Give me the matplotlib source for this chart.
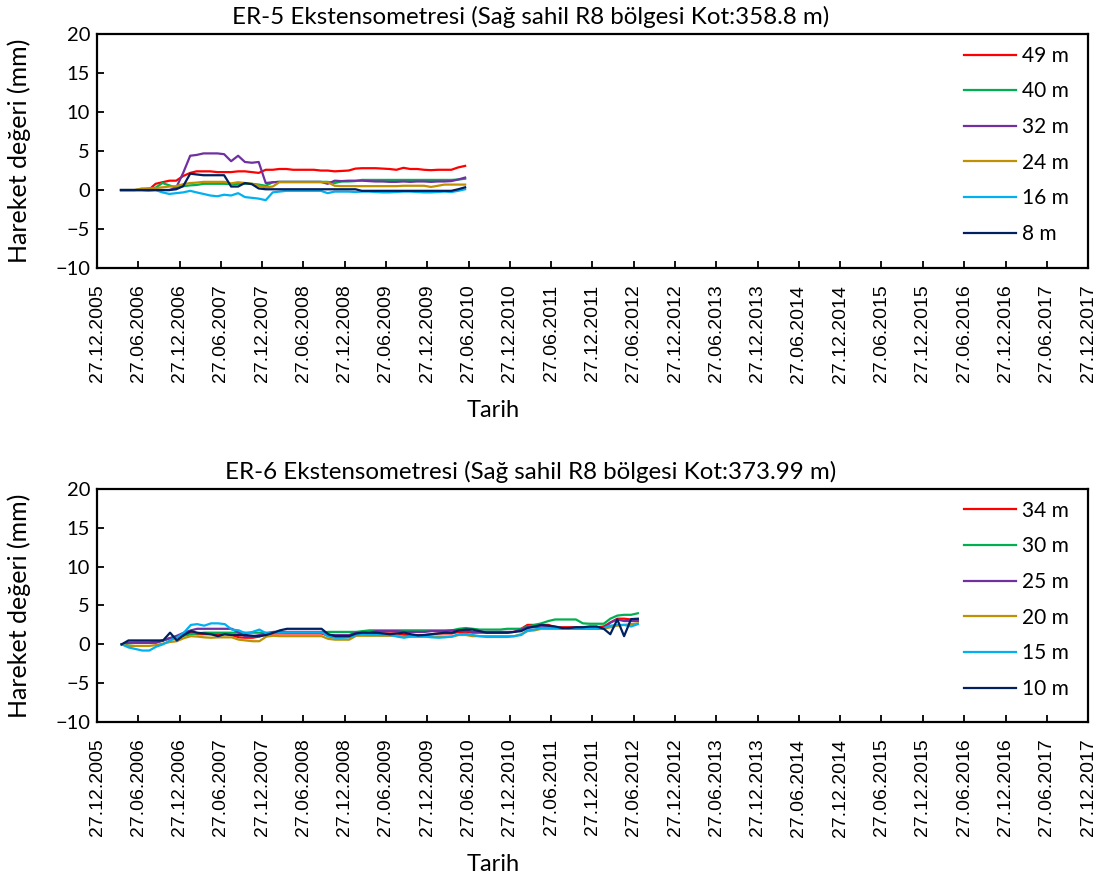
import matplotlib
matplotlib.use("Agg")
import matplotlib.pyplot as plt
import matplotlib.dates as mdates
import pandas as pd

# ER-5: aylik okumalar (Nisan 2006 - Haziran 2010)
er5_dates = pd.date_range("2006-04-12", periods=51, freq=pd.DateOffset(months=1))
er5_49 = [0, 0, 0, 0, 0, 0.8, 1.0, 1.2, 1.2, 1.8, 2.2, 2.4, 2.4, 2.4, 2.3, 2.3, 2.3,
          2.4, 2.4, 2.3, 2.2, 2.6, 2.6, 2.7, 2.7, 2.6, 2.6, 2.6, 2.6, 2.5, 2.5, 2.4,
          2.45, 2.5, 2.75, 2.8, 2.8, 2.8, 2.75, 2.7, 2.6, 2.85, 2.7, 2.7, 2.6, 2.55,
          2.6, 2.6, 2.6, 2.9, 3.1]
er5_40 = [0, 0, 0, 0.1, 0.2, 0.3, 0.9, 0.6, 0.3, 0.5, 0.6, 0.65, 0.8, 0.8, 0.8, 0.8,
          0.75, 0.8, 0.8, 0.8, 0.7, 0.55, 1.0, 1.05, 1.05, 1.05, 1.05, 1.05, 1.05,
          1.05, 1.05, 0.9, 1.1, 1.1, 1.15, 1.3, 1.3, 1.3, 1.3, 1.3, 1.3, 1.3, 1.3,
          1.3, 1.3, 1.3, 1.3, 1.3, 1.3, 1.35, 1.45]
er5_32 = [0, 0, 0, 0, 0, 0, 0, 0, 0.3, 2.2, 4.4, 4.5, 4.7, 4.7, 4.7, 4.6, 3.7, 4.4,
          3.6, 3.5, 3.6, 0.9, 1.0, 1.05, 1.05, 1.05, 1.05, 1.05, 1.05, 1.05, 0.8,
          1.2, 1.15, 1.2, 1.2, 1.2, 1.15, 1.1, 1.1, 1.05, 1.05, 1.1, 1.05, 1.1, 1.1,
          1.05, 1.1, 1.1, 1.15, 1.35, 1.6]
er5_24 = [0, 0, 0, 0.2, 0.2, 0.25, 0.35, 0.45, 0.5, 0.75, 0.9, 0.95, 1.05, 1.05,
          1.05, 1.05, 0.85, 1.0, 0.9, 0.8, 0.55, 0.35, 0.45, 1.0, 1.0, 1.0, 1.0,
          1.0, 1.0, 1.0, 1.0, 0.55, 0.5, 0.5, 0.5, 0.5, 0.5, 0.5, 0.5, 0.5, 0.5,
          0.55, 0.55, 0.55, 0.55, 0.4, 0.55, 0.7, 0.7, 0.7, 0.7]
er5_16 = [0, 0, 0, 0, -0.1, 0.0, -0.3, -0.5, -0.4, -0.3, -0.1, -0.3, -0.5, -0.7,
          -0.8, -0.6, -0.7, -0.4, -0.9, -1.0, -1.1, -1.3, -0.3, -0.2, -0.1, -0.1,
          -0.1, -0.1, -0.1, -0.1, -0.4, -0.2, -0.2, -0.2, -0.25, -0.2, -0.2, -0.25,
          -0.3, -0.3, -0.25, -0.2, -0.2, -0.25, -0.3, -0.3, -0.25, -0.2, -0.25,
          -0.1, 0.1]
er5_8 = [0, 0, 0, 0, 0, 0, 0, 0, 0.1, 0.5, 2.1, 2.0, 1.9, 1.9, 1.9, 1.9, 0.45, 0.45,
         0.9, 0.75, 0.2, 0.1, 0.1, 0.1, 0.1, 0.1, 0.1, 0.1, 0.1, 0.1, 0.1, 0.1,
         0.1, 0.1, 0.1, -0.1, -0.1, -0.1, -0.1, -0.1, -0.1, -0.1, -0.1, -0.1,
         -0.1, -0.1, -0.1, -0.1, -0.1, 0.1, 0.35]

# ER-6: aylik okumalar (Nisan 2006 - Temmuz 2012)
er6_dates = pd.date_range("2006-04-15", periods=76, freq=pd.DateOffset(months=1))
er6_34 = [0, 0.2, 0.2, 0.2, 0.2, 0.3, 0.5, 0.8, 1.0, 1.2, 1.5, 1.3, 1.3, 1.3, 1.3,
          1.3, 1.2, 0.9, 0.85, 0.85, 1.0, 1.3, 1.4, 1.4, 1.4, 1.4, 1.4, 1.4, 1.4,
          1.4, 1.1, 1.0, 1.0, 1.0, 1.3, 1.4, 1.4, 1.4, 1.4, 1.4, 1.4, 1.2, 1.2,
          1.2, 1.2, 1.3, 1.4, 1.4, 1.4, 1.6, 1.6, 1.5, 1.5, 1.5, 1.5, 1.5, 1.5,
          1.6, 2.0, 2.5, 2.5, 2.5, 2.5, 2.2, 2.2, 2.2, 2.2, 2.2, 2.2, 2.2, 2.3,
          2.8, 3.3, 3.3, 3.2, 3.2]
er6_30 = [0, 0.1, 0.2, 0.2, 0.2, 0.3, 0.5, 0.8, 0.9, 1.1, 1.3, 1.4, 1.5, 1.5, 1.5,
          1.5, 1.5, 1.5, 1.5, 1.5, 1.5, 1.5, 1.5, 1.5, 1.5, 1.5, 1.5, 1.5, 1.5,
          1.5, 1.6, 1.6, 1.6, 1.6, 1.6, 1.7, 1.8, 1.8, 1.8, 1.8, 1.8, 1.8, 1.8,
          1.8, 1.8, 1.8, 1.8, 1.8, 1.8, 2.0, 2.1, 2.0, 1.9, 1.9, 1.9, 1.9, 2.0,
          2.0, 2.0, 2.3, 2.5, 2.7, 3.0, 3.2, 3.2, 3.2, 3.2, 2.7, 2.65, 2.65, 2.65,
          3.3, 3.7, 3.8, 3.8, 4.0]
er6_25 = [0, 0.2, 0.2, 0.2, 0.2, 0.2, 0.5, 0.8, 1.1, 1.5, 1.8, 2.0, 2.0, 2.0, 2.0,
          2.0, 2.0, 1.5, 1.0, 1.0, 1.2, 1.4, 1.6, 1.6, 1.6, 1.6, 1.6, 1.6, 1.6,
          1.6, 1.2, 1.2, 1.2, 1.2, 1.5, 1.5, 1.5, 1.7, 1.7, 1.7, 1.7, 1.6, 1.6,
          1.6, 1.6, 1.7, 1.7, 1.7, 1.8, 1.8, 1.8, 1.6, 1.6, 1.6, 1.6, 1.6, 1.6,
          1.6, 1.9, 2.2, 2.2, 2.2, 2.2, 2.2, 2.0, 2.0, 2.0, 2.0, 2.0, 2.0, 2.0,
          2.8, 3.2, 3.0, 3.0, 3.0]
er6_20 = [0, -0.2, -0.2, -0.2, -0.2, -0.1, 0.1, 0.3, 0.4, 0.8, 1.05, 1.0, 0.9, 0.85,
          0.9, 0.9, 0.9, 0.6, 0.5, 0.4, 0.4, 1.0, 1.1, 1.05, 1.05, 1.05, 1.05,
          1.05, 1.05, 1.05, 0.7, 0.6, 0.6, 0.6, 1.1, 1.1, 1.1, 1.1, 1.1, 1.1, 1.1,
          1.0, 1.0, 1.0, 1.0, 1.0, 1.0, 1.0, 1.0, 1.2, 1.2, 1.05, 1.05, 1.05, 1.05,
          1.05, 1.05, 1.05, 1.3, 1.7, 1.8, 2.0, 2.0, 2.0, 2.0, 2.0, 2.0, 2.0, 2.0,
          2.0, 2.0, 2.2, 2.4, 2.5, 2.6, 2.7]
er6_15 = [0, -0.4, -0.6, -0.8, -0.8, -0.3, 0.0, 0.5, 0.85, 1.5, 2.5, 2.6, 2.4, 2.7,
          2.7, 2.6, 1.9, 1.8, 1.4, 1.6, 1.9, 1.4, 1.5, 1.5, 1.55, 1.55, 1.55, 1.55,
          1.55, 1.55, 1.0, 0.85, 0.85, 0.9, 1.2, 1.3, 1.2, 1.2, 1.2, 1.2, 1.0, 0.85,
          1.0, 1.0, 1.0, 0.9, 0.85, 0.9, 1.0, 1.3, 1.35, 1.2, 1.05, 0.95, 0.95,
          0.95, 0.95, 1.05, 1.2, 1.8, 1.9, 2.1, 2.1, 2.1, 2.1, 2.0, 2.0, 2.0, 2.0,
          2.0, 2.1, 2.4, 2.5, 2.5, 2.3, 2.6]
er6_10 = [0, 0.5, 0.5, 0.5, 0.5, 0.5, 0.5, 1.5, 0.5, 1.2, 1.7, 1.5, 1.4, 1.3, 1.05,
          1.3, 1.2, 1.2, 1.2, 1.1, 1.05, 1.2, 1.5, 1.8, 2.0, 2.0, 2.0, 2.0, 2.0,
          2.0, 1.3, 1.05, 1.05, 1.05, 1.4, 1.5, 1.5, 1.5, 1.4, 1.3, 1.4, 1.5, 1.3,
          1.15, 1.2, 1.3, 1.4, 1.5, 1.5, 1.8, 1.9, 1.9, 1.7, 1.5, 1.5, 1.5, 1.5,
          1.6, 1.7, 2.1, 2.3, 2.5, 2.4, 2.3, 2.1, 2.1, 2.2, 2.2, 2.3, 2.3, 2.0,
          1.3, 3.2, 1.05, 3.25, 3.3]

er5_labels = ["49 m", "40 m", "32 m", "24 m", "16 m", "8 m"]
er6_labels = ["34 m", "30 m", "25 m", "20 m", "15 m", "10 m"]
colors = ["#FF0000", "#00B050", "#7030A0", "#BF9000", "#00B0F0", "#002060"]

er5_titles = "ER-5 Ekstensometresi (Sağ sahil R8 bölgesi Kot:358.8 m)"
er6_titles = "ER-6 Ekstensometresi (Sağ sahil R8 bölgesi Kot:373.99 m)"

tick_dates = pd.date_range("2005-12-27", "2017-12-27", freq=pd.DateOffset(months=6))

font = "Lato"
fig = plt.figure(figsize=(11.09, 8.86), dpi=100)

def draw(ax, dates, series, labels, title):
    for vals, lab, c in zip(series, labels, colors):
        ax.plot(dates, vals, color=c, lw=1.6, label=lab)
    ax.set_xlim(pd.Timestamp("2005-12-27"), pd.Timestamp("2017-12-27"))
    ax.set_ylim(-10, 20)
    ax.set_yticks([-10, -5, 0, 5, 10, 15, 20])
    ax.set_xticks(tick_dates)
    ax.xaxis.set_major_formatter(mdates.DateFormatter("%d.%m.%Y"))
    ax.tick_params(axis="x", direction="in", length=5, width=1.3, rotation=90,
                   labelsize=14, pad=12)
    ax.tick_params(axis="y", direction="in", length=5, width=1.3, labelsize=14.5, pad=5)
    for lbl in ax.get_xticklabels():
        lbl.set_fontfamily("Liberation Sans")
    for lbl in ax.get_yticklabels():
        lbl.set_fontfamily(font)
    for s in ax.spines.values():
        s.set_linewidth(1.6)
    ax.set_title(title, fontsize=17.4, fontfamily=font, x=0.438, pad=7)
    ax.set_ylabel("Hareket değeri (mm)", fontsize=18, fontfamily=font)
    ax.yaxis.set_label_coords(-0.067, 0.5)
    ax.set_xlabel("Tarih", fontsize=17, fontfamily=font)
    ax.xaxis.set_label_coords(0.40, -0.565)
    ax.legend(loc="upper right", bbox_to_anchor=(1.0, 1.03), frameon=False,
              prop={"family": font, "size": 15}, handlelength=2.5,
              labelspacing=0.75, handletextpad=0.3)

ax1 = fig.add_axes([0.0875, 0.6975, 0.8936, 0.264])
draw(ax1, er5_dates, [er5_49, er5_40, er5_32, er5_24, er5_16, er5_8], er5_labels, er5_titles)

ax2 = fig.add_axes([0.0875, 0.1851, 0.8936, 0.263])
draw(ax2, er6_dates, [er6_34, er6_30, er6_25, er6_20, er6_15, er6_10], er6_labels, er6_titles)

fig.savefig("out.png", dpi=100)
